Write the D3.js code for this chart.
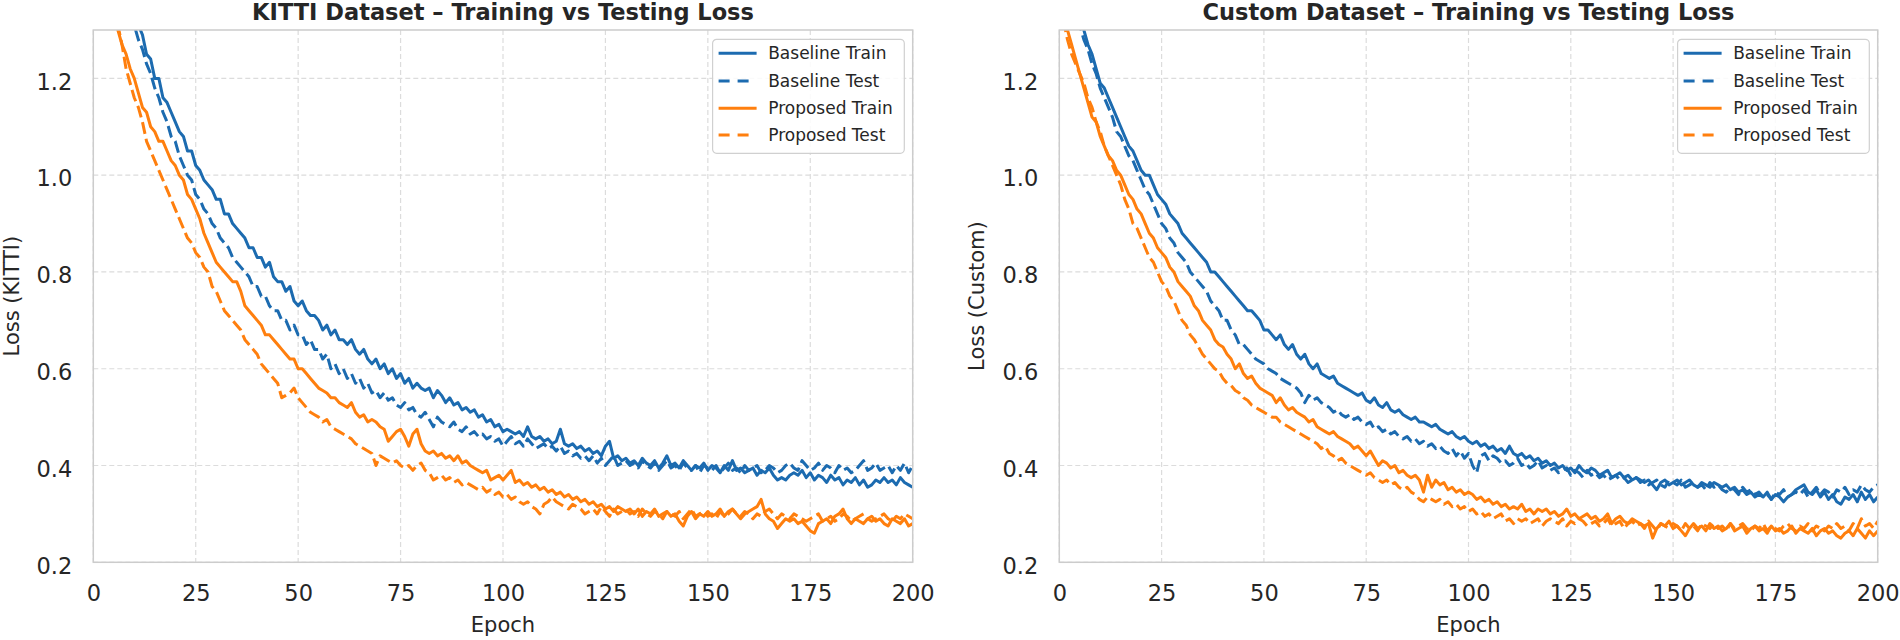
<!DOCTYPE html>
<html><head><meta charset="utf-8">
<script src="https://cdn.jsdelivr.net/npm/d3@7"></script>
<style>body{margin:0;background:#fff;} svg{display:block;font-family:"DejaVu Sans",sans-serif;}</style>
</head><body>
<svg id="chart" width="1900" height="640"></svg>
<script>
// ---------- data ----------
const xTicks = [0, 25, 50, 75, 100, 125, 150, 175, 200];
const yTicks = [0.2, 0.4, 0.6, 0.8, 1.0, 1.2];
const seriesNames = ["Baseline Train", "Baseline Test", "Proposed Train", "Proposed Test"];
const panelTitles = ["KITTI Dataset – Training vs Testing Loss", "Custom Dataset – Training vs Testing Loss"];
const yLabels = ["Loss (KITTI)", "Loss (Custom)"];
const xLabel = "Epoch";

const kittiBaselineTrain = [
1.62,1.58,1.56,1.51,1.49,1.45,1.43,1.38,1.37,1.33,
1.31,1.29,1.25,1.24,1.20,1.20,1.16,1.15,1.13,1.11,
1.09,1.08,1.05,1.05,1.02,1.01,0.99,0.98,0.97,0.95,
0.95,0.92,0.92,0.90,0.89,0.88,0.87,0.85,0.85,0.83,
0.83,0.81,0.82,0.79,0.78,0.78,0.76,0.77,0.74,0.73,
0.74,0.72,0.71,0.71,0.70,0.68,0.69,0.67,0.68,0.66,
0.66,0.65,0.66,0.64,0.63,0.64,0.62,0.61,0.62,0.60,
0.61,0.59,0.60,0.58,0.59,0.57,0.58,0.56,0.57,0.56,
0.555,0.56,0.54,0.555,0.545,0.53,0.54,0.525,0.53,0.515,
0.52,0.51,0.515,0.50,0.505,0.49,0.495,0.48,0.485,0.47,
0.475,0.47,0.465,0.47,0.46,0.48,0.46,0.455,0.46,0.45,
0.455,0.445,0.45,0.475,0.445,0.44,0.445,0.435,0.44,0.43,
0.435,0.425,0.43,0.42,0.44,0.45,0.415,0.42,0.41,0.415,
0.405,0.41,0.40,0.415,0.405,0.40,0.41,0.395,0.405,0.42,
0.40,0.405,0.395,0.41,0.40,0.39,0.40,0.395,0.405,0.39,
0.40,0.395,0.385,0.40,0.39,0.41,0.39,0.395,0.385,0.39,
0.395,0.38,0.39,0.385,0.395,0.38,0.37,0.375,0.37,0.38,
0.385,0.38,0.39,0.375,0.385,0.37,0.38,0.375,0.365,0.38,
0.37,0.375,0.36,0.37,0.365,0.375,0.36,0.37,0.355,0.36,
0.37,0.365,0.375,0.365,0.37,0.36,0.375,0.365,0.36,0.355];

const kittiBaselineTest = [
1.57,1.54,1.50,1.47,1.45,1.41,1.39,1.36,1.33,1.31,
1.28,1.26,1.23,1.21,1.18,1.16,1.13,1.11,1.08,1.07,
1.04,1.02,1.00,0.99,0.96,0.95,0.93,0.92,0.90,0.89,
0.87,0.86,0.85,0.83,0.82,0.81,0.80,0.79,0.77,0.77,
0.75,0.75,0.73,0.72,0.72,0.70,0.70,0.68,0.69,0.67,
0.67,0.65,0.66,0.64,0.64,0.62,0.63,0.60,0.61,0.59,
0.60,0.58,0.59,0.57,0.58,0.56,0.57,0.55,0.555,0.54,
0.55,0.535,0.54,0.525,0.52,0.53,0.515,0.52,0.505,0.50,
0.51,0.495,0.48,0.50,0.49,0.485,0.48,0.49,0.475,0.47,
0.48,0.465,0.47,0.46,0.465,0.455,0.46,0.45,0.455,0.44,
0.45,0.46,0.445,0.45,0.44,0.455,0.445,0.435,0.44,0.445,
0.435,0.44,0.43,0.44,0.425,0.43,0.42,0.425,0.415,0.42,
0.41,0.42,0.405,0.415,0.40,0.41,0.42,0.40,0.405,0.41,
0.40,0.405,0.395,0.41,0.40,0.395,0.405,0.39,0.40,0.41,
0.395,0.40,0.39,0.405,0.395,0.39,0.40,0.385,0.40,0.395,
0.39,0.40,0.385,0.395,0.405,0.39,0.395,0.385,0.40,0.39,
0.395,0.40,0.385,0.39,0.40,0.395,0.385,0.39,0.40,0.405,
0.395,0.39,0.41,0.40,0.39,0.395,0.405,0.39,0.40,0.395,
0.385,0.40,0.39,0.395,0.385,0.39,0.40,0.41,0.39,0.395,
0.405,0.39,0.395,0.40,0.385,0.40,0.39,0.405,0.385,0.40];

const kittiProposedTrain = [
1.46,1.42,1.40,1.35,1.33,1.30,1.27,1.25,1.22,1.20,
1.17,1.14,1.13,1.10,1.09,1.07,1.07,1.05,1.03,1.02,
1.00,0.99,0.96,0.95,0.93,0.91,0.88,0.86,0.84,0.82,
0.81,0.80,0.79,0.78,0.78,0.76,0.73,0.72,0.71,0.70,
0.69,0.67,0.67,0.66,0.65,0.64,0.63,0.62,0.62,0.60,
0.60,0.59,0.58,0.57,0.56,0.555,0.55,0.54,0.54,0.53,
0.525,0.52,0.53,0.51,0.50,0.505,0.49,0.495,0.49,0.48,
0.475,0.45,0.46,0.47,0.475,0.46,0.44,0.465,0.475,0.445,
0.43,0.425,0.43,0.42,0.425,0.415,0.42,0.41,0.42,0.405,
0.41,0.40,0.395,0.39,0.385,0.39,0.37,0.375,0.38,0.37,
0.38,0.39,0.365,0.37,0.36,0.365,0.355,0.36,0.35,0.355,
0.345,0.35,0.34,0.345,0.335,0.34,0.33,0.335,0.325,0.33,
0.32,0.325,0.315,0.32,0.31,0.315,0.305,0.315,0.31,0.305,
0.31,0.30,0.31,0.295,0.305,0.30,0.31,0.295,0.30,0.305,
0.295,0.30,0.285,0.275,0.295,0.305,0.29,0.30,0.295,0.305,
0.295,0.30,0.31,0.295,0.305,0.31,0.30,0.29,0.30,0.305,
0.31,0.315,0.33,0.30,0.29,0.285,0.27,0.28,0.29,0.285,
0.29,0.28,0.285,0.275,0.265,0.26,0.28,0.285,0.29,0.28,
0.295,0.30,0.31,0.29,0.28,0.29,0.285,0.28,0.29,0.295,
0.285,0.29,0.28,0.275,0.29,0.285,0.28,0.29,0.275,0.28];

const kittiProposedTest = [
1.52,1.47,1.43,1.39,1.34,1.31,1.27,1.22,1.19,1.16,
1.14,1.11,1.07,1.05,1.03,1.01,0.99,0.97,0.95,0.93,
0.91,0.89,0.87,0.86,0.84,0.83,0.81,0.80,0.77,0.76,
0.74,0.72,0.71,0.70,0.69,0.68,0.66,0.65,0.64,0.63,
0.61,0.60,0.59,0.58,0.57,0.54,0.545,0.55,0.56,0.54,
0.53,0.52,0.51,0.505,0.50,0.49,0.495,0.48,0.475,0.47,
0.465,0.46,0.455,0.445,0.44,0.435,0.43,0.425,0.40,0.42,
0.415,0.41,0.405,0.41,0.40,0.395,0.40,0.39,0.40,0.405,
0.39,0.385,0.37,0.375,0.38,0.37,0.375,0.365,0.37,0.36,
0.365,0.36,0.355,0.35,0.355,0.345,0.35,0.34,0.345,0.335,
0.34,0.33,0.335,0.325,0.32,0.325,0.315,0.31,0.30,0.32,
0.325,0.335,0.325,0.32,0.315,0.31,0.32,0.315,0.31,0.30,
0.305,0.31,0.30,0.315,0.305,0.295,0.31,0.30,0.305,0.31,
0.30,0.305,0.295,0.31,0.30,0.295,0.305,0.30,0.29,0.305,
0.30,0.295,0.305,0.29,0.30,0.31,0.295,0.30,0.305,0.295,
0.30,0.29,0.305,0.295,0.30,0.31,0.30,0.295,0.305,0.30,
0.29,0.30,0.295,0.305,0.31,0.30,0.29,0.30,0.295,0.29,
0.30,0.295,0.29,0.285,0.29,0.295,0.30,0.285,0.29,0.295,
0.285,0.29,0.30,0.295,0.285,0.29,0.295,0.30,0.29,0.285,
0.29,0.295,0.30,0.29,0.285,0.295,0.29,0.30,0.295,0.29];

const customBaselineTrain = [
1.46,1.43,1.39,1.36,1.32,1.30,1.27,1.25,1.22,1.19,
1.18,1.16,1.14,1.12,1.10,1.08,1.06,1.05,1.03,1.01,
1.00,1.00,0.98,0.96,0.95,0.94,0.92,0.91,0.90,0.88,
0.87,0.86,0.85,0.84,0.83,0.82,0.80,0.80,0.79,0.78,
0.77,0.76,0.75,0.74,0.73,0.72,0.72,0.71,0.70,0.68,
0.68,0.67,0.66,0.67,0.65,0.64,0.65,0.63,0.62,0.63,
0.61,0.60,0.61,0.59,0.585,0.58,0.585,0.57,0.565,0.56,
0.555,0.55,0.545,0.55,0.535,0.53,0.54,0.525,0.52,0.53,
0.515,0.51,0.515,0.505,0.50,0.495,0.50,0.49,0.49,0.485,
0.48,0.485,0.475,0.47,0.465,0.47,0.46,0.455,0.46,0.45,
0.445,0.45,0.44,0.445,0.435,0.44,0.43,0.435,0.425,0.44,
0.425,0.42,0.425,0.415,0.42,0.41,0.415,0.405,0.41,0.40,
0.405,0.395,0.40,0.39,0.395,0.385,0.40,0.39,0.385,0.395,
0.39,0.38,0.385,0.39,0.375,0.38,0.385,0.375,0.38,0.37,
0.375,0.37,0.365,0.37,0.36,0.35,0.365,0.37,0.36,0.365,
0.37,0.36,0.365,0.37,0.36,0.355,0.365,0.36,0.355,0.365,
0.36,0.355,0.36,0.35,0.355,0.345,0.35,0.34,0.345,0.335,
0.34,0.335,0.345,0.33,0.34,0.335,0.325,0.335,0.34,0.35,
0.355,0.36,0.345,0.34,0.35,0.335,0.345,0.33,0.34,0.325,
0.32,0.335,0.33,0.34,0.325,0.345,0.33,0.34,0.325,0.335];

const customBaselineTest = [
1.46,1.42,1.39,1.35,1.31,1.28,1.26,1.23,1.21,1.18,
1.16,1.14,1.12,1.09,1.08,1.06,1.04,1.03,1.01,0.99,
0.97,0.96,0.94,0.92,0.90,0.89,0.87,0.86,0.84,0.83,
0.82,0.80,0.79,0.78,0.77,0.76,0.74,0.73,0.72,0.70,
0.70,0.68,0.67,0.65,0.65,0.64,0.63,0.62,0.615,0.61,
0.60,0.595,0.59,0.58,0.575,0.57,0.565,0.56,0.55,0.53,
0.545,0.535,0.54,0.53,0.525,0.52,0.51,0.515,0.505,0.50,
0.505,0.495,0.50,0.49,0.485,0.49,0.475,0.48,0.47,0.475,
0.465,0.47,0.46,0.455,0.46,0.45,0.455,0.445,0.45,0.44,
0.445,0.435,0.44,0.43,0.425,0.435,0.42,0.43,0.415,0.425,
0.40,0.385,0.42,0.425,0.41,0.42,0.415,0.405,0.41,0.40,
0.405,0.415,0.40,0.405,0.395,0.40,0.41,0.395,0.40,0.39,
0.395,0.385,0.39,0.395,0.38,0.39,0.385,0.375,0.39,0.38,
0.385,0.375,0.38,0.37,0.375,0.38,0.37,0.375,0.365,0.37,
0.375,0.365,0.37,0.36,0.365,0.37,0.36,0.355,0.37,0.365,
0.36,0.37,0.355,0.36,0.365,0.355,0.36,0.35,0.365,0.355,
0.36,0.35,0.345,0.355,0.35,0.34,0.355,0.345,0.35,0.34,
0.345,0.335,0.34,0.33,0.345,0.34,0.35,0.335,0.34,0.345,
0.34,0.35,0.335,0.345,0.355,0.34,0.35,0.345,0.335,0.35,
0.345,0.355,0.34,0.35,0.345,0.36,0.35,0.345,0.355,0.36];

const customProposedTrain = [
1.33,1.30,1.27,1.24,1.21,1.18,1.15,1.12,1.11,1.08,
1.06,1.04,1.03,1.01,1.00,0.98,0.96,0.95,0.93,0.92,
0.90,0.88,0.87,0.85,0.84,0.83,0.81,0.80,0.78,0.77,
0.76,0.75,0.73,0.72,0.70,0.69,0.68,0.66,0.65,0.645,
0.63,0.62,0.60,0.61,0.59,0.58,0.585,0.57,0.56,0.555,
0.55,0.545,0.53,0.54,0.525,0.515,0.52,0.51,0.505,0.50,
0.49,0.495,0.48,0.475,0.47,0.465,0.47,0.46,0.455,0.45,
0.445,0.435,0.44,0.43,0.42,0.43,0.415,0.40,0.41,0.405,
0.395,0.40,0.385,0.39,0.38,0.375,0.38,0.37,0.345,0.38,
0.355,0.37,0.36,0.365,0.35,0.355,0.345,0.35,0.34,0.345,
0.34,0.33,0.335,0.325,0.33,0.32,0.325,0.315,0.32,0.31,
0.315,0.31,0.32,0.305,0.31,0.30,0.31,0.305,0.31,0.30,
0.305,0.295,0.30,0.31,0.295,0.30,0.29,0.295,0.30,0.29,
0.295,0.285,0.29,0.30,0.28,0.29,0.295,0.285,0.28,0.29,
0.285,0.28,0.275,0.28,0.25,0.27,0.28,0.275,0.285,0.27,
0.275,0.265,0.255,0.27,0.28,0.27,0.275,0.265,0.28,0.27,
0.275,0.265,0.27,0.28,0.265,0.27,0.275,0.26,0.27,0.275,
0.265,0.27,0.26,0.275,0.265,0.27,0.26,0.265,0.275,0.26,
0.27,0.265,0.26,0.27,0.255,0.265,0.27,0.26,0.265,0.255,
0.25,0.26,0.265,0.255,0.27,0.26,0.25,0.265,0.255,0.265];

const customProposedTest = [
1.32,1.28,1.25,1.23,1.21,1.19,1.16,1.14,1.11,1.09,
1.06,1.04,1.02,1.00,0.98,0.95,0.93,0.90,0.89,0.87,
0.85,0.83,0.82,0.80,0.78,0.77,0.75,0.74,0.72,0.70,
0.69,0.67,0.66,0.645,0.63,0.62,0.61,0.60,0.595,0.58,
0.57,0.565,0.555,0.55,0.54,0.535,0.525,0.52,0.515,0.51,
0.505,0.50,0.50,0.49,0.485,0.48,0.475,0.47,0.465,0.46,
0.455,0.45,0.445,0.435,0.44,0.425,0.42,0.41,0.415,0.405,
0.40,0.395,0.39,0.385,0.38,0.385,0.375,0.37,0.365,0.37,
0.36,0.365,0.355,0.35,0.355,0.345,0.34,0.33,0.325,0.335,
0.33,0.325,0.33,0.32,0.325,0.315,0.32,0.31,0.315,0.305,
0.31,0.30,0.305,0.295,0.30,0.29,0.295,0.30,0.285,0.29,
0.28,0.29,0.285,0.29,0.28,0.285,0.29,0.275,0.285,0.29,
0.285,0.28,0.29,0.275,0.285,0.28,0.29,0.285,0.275,0.28,
0.285,0.275,0.28,0.29,0.275,0.28,0.285,0.27,0.28,0.285,
0.275,0.28,0.27,0.285,0.275,0.265,0.28,0.275,0.27,0.28,
0.275,0.265,0.28,0.27,0.275,0.265,0.28,0.275,0.27,0.28,
0.27,0.275,0.265,0.28,0.27,0.275,0.28,0.27,0.265,0.275,
0.27,0.28,0.265,0.275,0.27,0.265,0.275,0.28,0.27,0.265,
0.275,0.27,0.28,0.265,0.275,0.27,0.265,0.275,0.27,0.28,
0.27,0.275,0.265,0.28,0.27,0.29,0.275,0.28,0.27,0.285];

const epochs = d3.range(1, 201);

// ---------- style ----------
const colors = ["#1c6bb0", "#1c6bb0", "#ff7f0e", "#ff7f0e"];
const dashes = [null, "12,5", null, "12,5"];
const textColor = "#262626";

const panels = [
  {title: panelTitles[0], ylabel: yLabels[0], left: 93.3, right: 912.7, ylabX: 19,
   series: [kittiBaselineTrain, kittiBaselineTest, kittiProposedTrain, kittiProposedTest]},
  {title: panelTitles[1], ylabel: yLabels[1], left: 1059.3, right: 1877.7, ylabX: 984,
   series: [customBaselineTrain, customBaselineTest, customProposedTrain, customProposedTest]}
];
const plotTop = 30, plotBottom = 562.3;

const svg = d3.select("#chart");

panels.forEach((p, pi) => {
  const x = d3.scaleLinear().domain([0, 200]).range([p.left, p.right]);
  const y = d3.scaleLinear().domain([0.2, 1.3]).range([plotBottom, plotTop]);
  const g = svg.append("g");

  // grid
  g.append("g").selectAll("line").data(xTicks).join("line")
    .attr("x1", d => x(d)).attr("x2", d => x(d)).attr("y1", plotTop).attr("y2", plotBottom)
    .attr("stroke", "#dcdcdc").attr("stroke-width", 1.2).attr("stroke-dasharray", "5,3");
  g.append("g").selectAll("line").data(yTicks).join("line")
    .attr("x1", p.left).attr("x2", p.right).attr("y1", d => y(d)).attr("y2", d => y(d))
    .attr("stroke", "#dcdcdc").attr("stroke-width", 1.2).attr("stroke-dasharray", "5,3");

  // clip
  const cid = "clip" + pi;
  svg.append("clipPath").attr("id", cid).append("rect")
    .attr("x", p.left).attr("y", plotTop).attr("width", p.right - p.left).attr("height", plotBottom - plotTop);

  const line = d3.line().x((d, i) => x(epochs[i])).y(d => y(d));
  const lg = g.append("g").attr("clip-path", `url(#${cid})`);
  p.series.forEach((s, si) => {
    lg.append("path").datum(s).attr("d", line)
      .attr("fill", "none").attr("stroke", colors[si]).attr("stroke-width", 3)
      .attr("stroke-linejoin", "round")
      .attr("stroke-dasharray", dashes[si]);
  });

  // frame
  g.append("rect").attr("x", p.left).attr("y", plotTop).attr("width", p.right - p.left).attr("height", plotBottom - plotTop)
    .attr("fill", "none").attr("stroke", "#cccccc").attr("stroke-width", 1.5);

  // axes (d3 axes, restyled)
  const xAxis = g.append("g").attr("transform", `translate(0,${plotBottom})`)
    .call(d3.axisBottom(x).tickValues(xTicks).tickFormat(d3.format("d")).tickSize(0).tickPadding(0));
  xAxis.select(".domain").remove();
  xAxis.selectAll("text").attr("y", 38.7).attr("dy", null)
    .attr("fill", textColor).style("font-size", "22.5px").style("font-family", "DejaVu Sans");

  const yAxis = g.append("g").attr("transform", `translate(${p.left},0)`)
    .call(d3.axisLeft(y).tickValues(yTicks).tickFormat(d3.format(".1f")).tickSize(0).tickPadding(0));
  yAxis.select(".domain").remove();
  yAxis.selectAll("text").attr("x", -21).attr("dy", "10.7px")
    .attr("fill", textColor).style("font-size", "22.5px").style("font-family", "DejaVu Sans");

  // title
  g.append("text").attr("x", (p.left + p.right) / 2).attr("y", 20)
    .attr("text-anchor", "middle").attr("font-weight", "bold").attr("font-size", "22.5px")
    .attr("fill", textColor).text(p.title);

  // x label
  g.append("text").attr("x", (p.left + p.right) / 2).attr("y", 632)
    .attr("text-anchor", "middle").attr("font-size", "21px").attr("fill", textColor).text(xLabel);

  // y label
  g.append("text").attr("transform", `translate(${p.ylabX},${(plotTop + plotBottom) / 2}) rotate(-90)`)
    .attr("text-anchor", "middle").attr("font-size", "21px").attr("fill", textColor).text(p.ylabel);

  // legend
  const lw = 191.7, lh = 114;
  const lx = p.right - 8.4 - lw, ly = 39.3;
  const leg = g.append("g").attr("transform", `translate(${lx},${ly})`);
  leg.append("rect").attr("width", lw).attr("height", lh).attr("rx", 4).attr("ry", 4)
    .attr("fill", "white").attr("fill-opacity", 0.85).attr("stroke", "#d0d0d0").attr("stroke-width", 1.2);
  const rowY = [14, 41.7, 69, 95.7];
  seriesNames.forEach((n, i) => {
    leg.append("line").attr("x1", 6).attr("x2", 44).attr("y1", rowY[i]).attr("y2", rowY[i])
      .attr("stroke", colors[i]).attr("stroke-width", 3).attr("stroke-dasharray", dashes[i] ? "11,8" : null);
    leg.append("text").attr("x", 55.6).attr("y", rowY[i]).attr("dy", "0.35em")
      .attr("font-size", "17px").attr("fill", textColor).text(n);
  });
});
</script>
</body></html>
